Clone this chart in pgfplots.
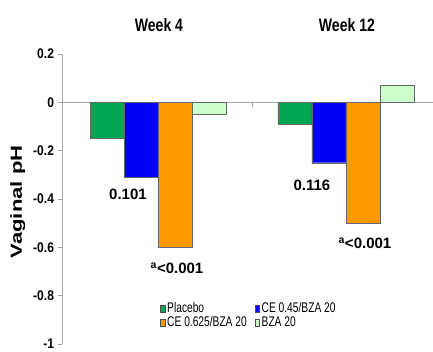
\documentclass[border=0pt]{standalone}
\usepackage{fontspec}
\setmainfont{Liberation Sans}
\newfontfamily\narrowfont{Liberation Sans}[FakeStretch=0.78]
\newfontfamily\tickfont{Liberation Sans}[FakeStretch=0.86]
\newfontfamily\legfont{Liberation Sans}[FakeStretch=0.73]
\newfontfamily\widefont{Liberation Sans}[FakeStretch=1.38]
\usepackage{pgfplots}
\pgfplotsset{compat=1.18}
\definecolor{cgreen}{RGB}{0,166,81}
\definecolor{cblue}{RGB}{0,0,245}
\definecolor{corange}{RGB}{255,153,0}
\definecolor{clight}{RGB}{204,255,204}
\pgfplotsset{mylegend/.style={legend image code/.code={\draw[##1, draw=black!70, line width=0.3pt] (0pt,-3.5pt) rectangle (4.5pt,3.5pt);}}}
\begin{document}
\begin{tikzpicture}
\useasboundingbox (0,0) rectangle (433pt,352pt);
\begin{axis}[
  at={(62pt,8pt)}, anchor=south west,
  scale only axis, width=371pt, height=290pt,
  xmin=0.489, xmax=2.463, ymin=-1, ymax=0.2,
  axis x line=middle, axis y line=left,
  axis line style={gray!70, line width=0.6pt, -},
  tick align=outside,
  major tick length=4.5pt,
  ybar=0pt, bar width=34pt,
  xtick={1.5}, xticklabels={},
  x tick style={gray!70, line width=0.6pt},
  y tick style={gray!70, line width=0.6pt},
  ytick={-1,-0.8,-0.6,-0.4,-0.2,0,0.2},
  yticklabels={-1,-0.8,-0.6,-0.4,-0.2,0,0.2},
  yticklabel style={font=\tickfont\bfseries\fontsize{14}{14}\selectfont},
  clip=false,
  ylabel={Vaginal pH},
  ylabel style={at={(axis description cs:-0.119,0.49)}, anchor=center, font=\widefont\bfseries\fontsize{16}{16}\selectfont},
  legend columns=2,
  legend style={at={(0.264,0.147)}, anchor=north west, draw=none, fill=none,
    font=\legfont\fontsize{14}{14}\selectfont, inner sep=0pt,
    nodes={text height=10pt, text depth=2.5pt, inner sep=0.8pt},
    /tikz/every even column/.append style={column sep=7pt},
    row sep=0pt},
  legend cell align=left,
]
\addplot[fill=cgreen, draw=black!60, line width=0.3pt, mylegend] coordinates {(1,-0.15) (2,-0.09)};
\addplot[fill=cblue, draw=black!60, line width=0.3pt, mylegend] coordinates {(1,-0.31) (2,-0.25)};
\addplot[fill=corange, draw=black!60, line width=0.3pt, mylegend] coordinates {(1,-0.60) (2,-0.50)};
\addplot[fill=clight, draw=black!60, line width=0.3pt, mylegend] coordinates {(1,-0.05) (2,0.07)};
\legend{\kern1.5pt Placebo, \kern1.5pt CE 0.45/BZA 20, \kern1.5pt CE 0.625/BZA 20, \kern1.5pt BZA 20}
\node[font=\bfseries\fontsize{15}{15}\selectfont] at (axis cs:0.840,-0.379) {0.101};
\node[font=\bfseries\fontsize{15}{15}\selectfont] at (axis cs:1.101,-0.6875) {\textsuperscript{a}<0.001};
\node[font=\bfseries\fontsize{15}{15}\selectfont] at (axis cs:1.819,-0.342) {0.116};
\node[font=\bfseries\fontsize{15}{15}\selectfont] at (axis cs:2.101,-0.583) {\textsuperscript{a}<0.001};
\node[font=\narrowfont\bfseries\fontsize{18}{18}\selectfont] at (axis cs:1.005,0.321) {Week 4};
\node[font=\narrowfont\bfseries\fontsize{18}{18}\selectfont] at (axis cs:2.005,0.321) {Week 12};
\end{axis}
\end{tikzpicture}
\end{document}
